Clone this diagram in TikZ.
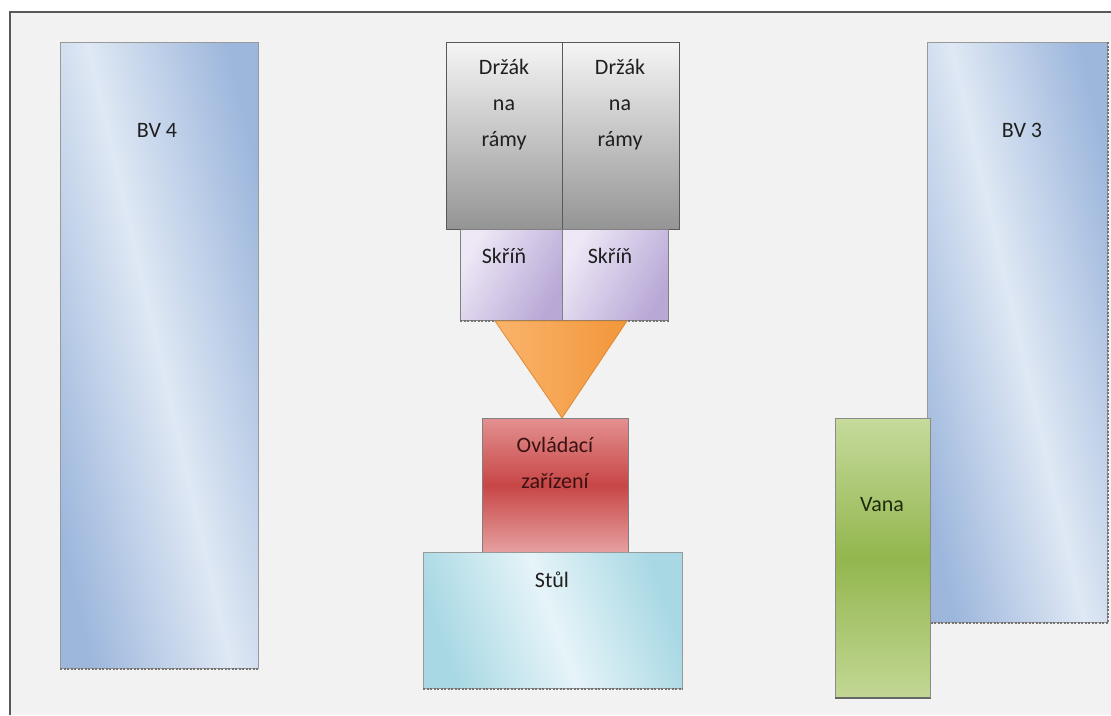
\documentclass[tikz,border=0pt]{standalone}
\usepackage{fontspec}
\setmainfont{Carlito}
\usetikzlibrary{positioning}
\definecolor{bvdark}{HTML}{9CB6DC}
\definecolor{bvlight}{HTML}{DFE8F4}
\definecolor{skdark}{HTML}{B8A8D6}
\definecolor{sklight}{HTML}{EEE8F6}
\definecolor{orleft}{HTML}{FAB46C}
\definecolor{orright}{HTML}{F2963A}
\definecolor{ortrim}{HTML}{E08A32}
\definecolor{ovtop}{HTML}{E39090}
\definecolor{ovmid}{HTML}{C84646}
\definecolor{ovbot}{HTML}{E6A0A0}
\definecolor{ovtext}{HTML}{3A1212}
\definecolor{stdark}{HTML}{A8D8E4}
\definecolor{stlight}{HTML}{E6F4F8}
\definecolor{vatop}{HTML}{C6DA9C}
\definecolor{vamid}{HTML}{93B64E}
\definecolor{vabot}{HTML}{C2D794}
\definecolor{vatext}{HTML}{1E2A0C}
\definecolor{page}{HTML}{F2F2F2}
\begin{document}
\begin{tikzpicture}[x=1pt,y=-1pt,
  box/.style={draw=#1, line width=0.8pt, rectangle, inner sep=0pt, anchor=north west},
  lbl/.style={font=\fontsize{22}{36}\selectfont, text=black!88, align=center, inner sep=0pt},
  bvshade/.style={left color=bvdark, right color=bvdark, middle color=bvlight, shading angle=103},
  skshade/.style={left color=sklight, right color=skdark, shading angle=60},
  shadowline/.style={draw=black!55, line width=1.6pt, dash pattern=on 2pt off 1.5pt}]
% page and frame
\useasboundingbox (0,0) rectangle (1111,715);
\fill[white] (0,0) rectangle (1111,715);
\fill[page] (10,12) rectangle (1111,715);
\draw[black!65, line width=2pt] (10,715) -- (10,12) -- (1111,12);

% tall boxes on the sides
\node[box=black!40, minimum width=198pt, minimum height=626pt, bvshade] (bv4) at (60,42) {};
\draw[shadowline] (bv4.south west) -- (bv4.south east);
\node[lbl] (bv4t) at (157,130) {BV 4};

\node[box=black!40, minimum width=180pt, minimum height=580pt, bvshade] (bv3) at (927,42) {};
\draw[shadowline] (bv3.south west) -- (bv3.south east);
\draw[shadowline] (bv3.north east) -- (bv3.south east);
\node[lbl] (bv3t) at (1022,130) {BV 3};

% bath
\node[box=black!45, minimum width=95pt, minimum height=279pt,
      top color=vatop, bottom color=vabot, middle color=vamid] (vana) at (835,418) {};
\draw[black!60, line width=1.6pt] (vana.south west) -- (vana.south east);
\draw[black!45, line width=1.2pt] (vana.north east) -- (vana.south east);
\node[lbl, text=vatext] (vanat) at (882,505) {Vana};

% frame holders
\node[box=black!65, minimum width=116pt, minimum height=187pt,
      top color=white!96!black, bottom color=black!42] (d1) at (446,42) {};
\node[box=black!65, minimum width=117pt, minimum height=187pt,
      top color=white!96!black, bottom color=black!42] (d2) at (562,42) {};
\node[lbl] (d1t) at (504,105) {Držák\\na\\rámy};
\node[lbl] (d2t) at (620,105) {Držák\\na\\rámy};

% cabinets
\node[box=black!50, minimum width=102pt, minimum height=91pt, skshade] (s1) at (460,229) {};
\node[box=black!50, minimum width=106pt, minimum height=91pt, skshade] (s2) at (562,229) {};
\draw[shadowline] (s1.south west) -- (s2.south east);
\node[lbl] (s1t) at (504,256) {Skříň};
\node[lbl] (s2t) at (610,256) {Skříň};

% funnel
\coordinate (fl) at (495,321);
\coordinate (fr) at (627,321);
\coordinate (fa) at (562,418);
\shade[left color=orleft, right color=orright, draw=ortrim, line width=0.8pt]
  (fl) -- (fr) -- (fa) -- cycle;

% control unit
\node[box=black!50, minimum width=146pt, minimum height=134pt,
      top color=ovtop, bottom color=ovbot, middle color=ovmid] (ovl) at (482,418) {};
\node[lbl, text=ovtext] (ovlt) at (555,463) {Ovládací\\zařízení};

% table
\node[box=black!40, minimum width=259pt, minimum height=136pt,
      left color=stdark, right color=stdark, middle color=stlight, shading angle=110] (stul) at (423,552) {};
\draw[shadowline] (stul.south west) -- (stul.south east);
\node[lbl] (stult) at (552,580) {Stůl};
\end{tikzpicture}
\end{document}
